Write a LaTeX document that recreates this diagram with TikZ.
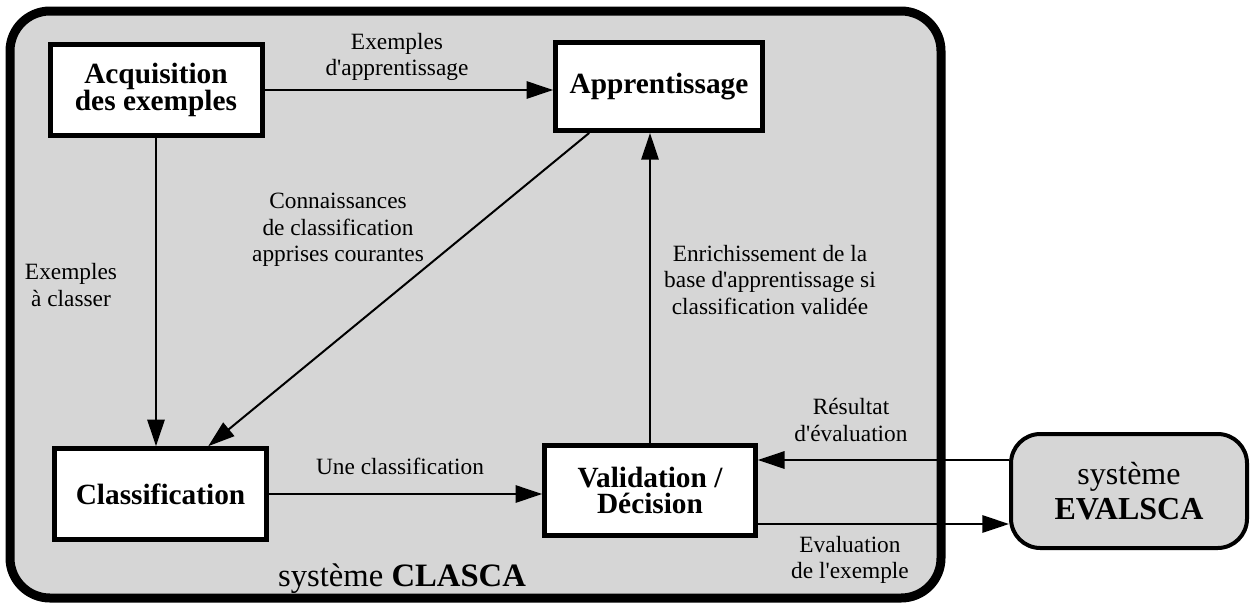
\documentclass[tikz,border=0pt]{standalone}
\usepackage{fontspec}
\setmainfont{Liberation Serif}
\usepackage{xcolor}
\usepackage{tikz}
\usetikzlibrary{arrows.meta,shapes,positioning,calc}
\definecolor{fond}{gray}{0.84}
\newcommand{\apos}{\textquotesingle}

\begin{document}
\begin{tikzpicture}[x=0.75pt,y=-0.75pt,->,>={Triangle[length=20pt,width=13pt]},
line width=1.5pt]

\tikzstyle{bloc}=[rectangle, draw, line width=3.75pt, fill=white, align=center, 
inner sep=0pt, font=\fontsize{22}{20}\selectfont\bfseries]
\tikzstyle{etiq}=[align=center, inner sep=0pt, font=\fontsize{17.5}{20}\selectfont]

\useasboundingbox (0,0) rectangle (1255,604);

%systeme CLASCA
\draw[-, line width=6.75pt, rounded corners=30pt, fill=fond] (10,11) rectangle (941,598);
\node[font=\fontsize{24.5}{27}\selectfont] (clasca) at (402,579) {système \textbf{CLASCA}};

%blocs
\node[bloc, minimum width=159pt, minimum height=68pt] (acq) at (156,90) {Acquisition\\des exemples};
\node[bloc, minimum width=155pt, minimum height=66pt] (app) at (659,86.5) {Apprentissage};
\node[bloc, minimum width=159pt, minimum height=68pt] (cla) at (160.5,494) {Classification};
\node[bloc, minimum width=158pt, minimum height=67.5pt] (val) at (650,490.5) {Validation /\\Décision};

%systeme EVALSCA
\node[bloc, rounded corners=22pt, line width=3pt, fill=fond, font=\fontsize{24}{26}\selectfont,
minimum width=177pt, minimum height=85.5pt] (eva) at (1129,491) {système\\\textbf{EVALSCA}};

%connexions
\draw (acq.east) -- (app.west |- acq.east);
\draw (acq.south) -- (cla.north -| acq.south);
\draw ($(app.south west)!0.17!(app.south east)$) -- ($(cla.north west)!0.72!(cla.north east)$);
\draw (val.north) -- (app.south -| val.north);
\draw (cla.east) -- (val.west |- cla.east);
\coordinate (evh) at ($(eva.west)+(0,-31)$);
\coordinate (evb) at ($(eva.west)+(0,33)$);
\draw (evh) -- (val.east |- evh);
\draw (val.east |- evb) -- (evb);

%etiquettes
\node[etiq] (ex) at (397,57) {Exemples\\d\apos apprentissage};
\node[etiq] (ac) at (71,285) {Exemples\\à classer};
\node[etiq] (co) at (338,230) {Connaissances\\de classification\\apprises courantes};
\node[etiq] (en) at (770,280) {Enrichissement de la\\base d\apos apprentissage si\\classification validée};
\node[etiq] (un) at (400,466) {Une classification};
\node[etiq] (re) at (851,420) {Résultat\\d\apos évaluation};
\node[etiq] (ev) at (850,560) {Evaluation\\de l\apos exemple};

\end{tikzpicture}
\end{document}
